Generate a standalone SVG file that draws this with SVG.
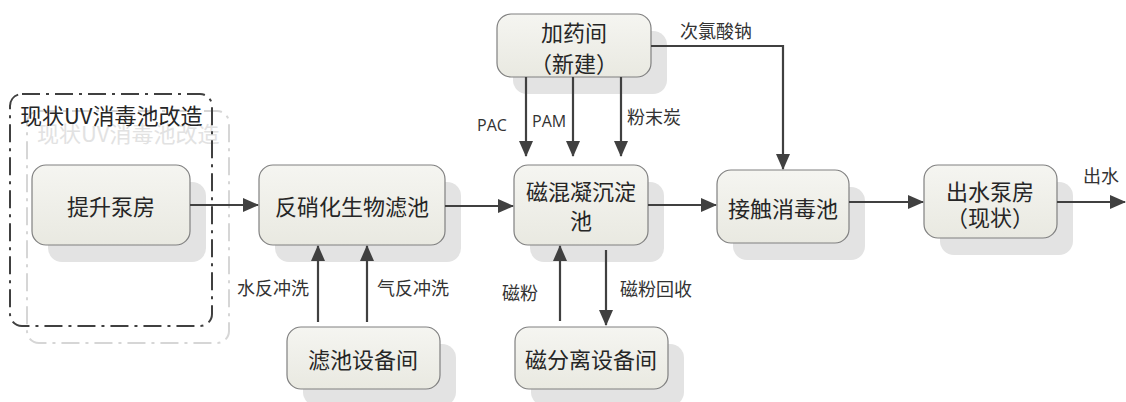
<svg xmlns="http://www.w3.org/2000/svg" width="1126" height="402" viewBox="0 0 1126 402">
<defs>
<linearGradient id="g" x1="0" y1="0" x2="0" y2="1">
<stop offset="0" stop-color="#f5f5f1"/>
<stop offset="1" stop-color="#e9e9e1"/>
</linearGradient>
<marker id="ah" markerUnits="userSpaceOnUse" markerWidth="16" markerHeight="14" viewBox="0 0 16 14" refX="15" refY="7" orient="auto">
<path d="M0,0 L16,7 L0,14 Z" fill="#404040"/>
</marker>
<style>
.box{fill:url(#g);stroke:#808080;stroke-width:1.2}
.sh{fill:#e3e3e3}
.t{font-family:"Noto Sans CJK SC","Liberation Sans",sans-serif;font-size:22px;fill:#262626;text-anchor:middle;dominant-baseline:central}
.l{font-family:"Noto Sans CJK SC","Liberation Sans",sans-serif;font-size:18px;fill:#333;dominant-baseline:central}
.lat{font-family:"Open Sans","Liberation Sans",sans-serif;font-size:16px;fill:#333;dominant-baseline:central}
.c{fill:none;stroke:#404040;stroke-width:2.2;marker-end:url(#ah)}
.ft{font-family:"Noto Sans CJK SC","Liberation Sans",sans-serif;font-size:22px;dominant-baseline:central}
</style>
</defs>
<rect width="1126" height="402" fill="#ffffff"/>

<g id="frame">
<rect x="27" y="111" width="202" height="232" rx="12" fill="none" stroke="#d6d6d6" stroke-width="2" stroke-dasharray="18,6,3,6"/>
<text class="ft" x="37" y="132" fill="#e2e2e2">现状UV消毒池改造</text>
<rect x="10" y="94" width="202" height="232" rx="12" fill="none" stroke="#404040" stroke-width="2" stroke-dasharray="18,6,3,6"/>
<text class="ft" x="20" y="114" fill="#262626">现状UV消毒池改造</text>
</g>

<g id="n-tisheng">
<rect class="sh" x="48" y="182" width="158" height="80" rx="14"/>
<rect class="box" x="32" y="165" width="158" height="80" rx="14"/>
<text class="t" x="111" y="205">提升泵房</text>
</g>

<g id="n-fanxiaohua">
<rect class="sh" x="275" y="182" width="186" height="80" rx="14"/>
<rect class="box" x="259" y="165" width="186" height="80" rx="14"/>
<text class="t" x="352" y="205">反硝化生物滤池</text>
</g>

<g id="n-cihunning">
<rect class="sh" x="530" y="182" width="134" height="80" rx="14"/>
<rect class="box" x="514" y="165" width="134" height="80" rx="14"/>
<text class="t" x="581" y="190">磁混凝沉淀</text>
<text class="t" x="581" y="219">池</text>
</g>

<g id="n-jiechu">
<rect class="sh" x="733" y="187" width="132" height="73" rx="14"/>
<rect class="box" x="717" y="170" width="132" height="73" rx="14"/>
<text class="t" x="783" y="207">接触消毒池</text>
</g>

<g id="n-chushui">
<rect class="sh" x="940" y="182" width="133" height="73" rx="14"/>
<rect class="box" x="924" y="165" width="133" height="73" rx="14"/>
<text class="t" x="990" y="190">出水泵房</text>
<text class="t" x="990" y="216">（现状）</text>
</g>

<g id="n-jiayao">
<rect class="sh" x="513" y="31" width="154" height="63" rx="14"/>
<rect class="box" x="497" y="14" width="154" height="63" rx="14"/>
<text class="t" x="574" y="31">加药间</text>
<text class="t" x="574" y="62">（新建）</text>
</g>

<g id="n-lvchi">
<rect class="sh" x="303" y="344" width="153" height="62" rx="14"/>
<rect class="box" x="287" y="327" width="153" height="62" rx="14"/>
<text class="t" x="363" y="358">滤池设备间</text>
</g>

<g id="n-cifenli">
<rect class="sh" x="531" y="344" width="153" height="62" rx="14"/>
<rect class="box" x="515" y="327" width="153" height="62" rx="14"/>
<text class="t" x="591" y="358">磁分离设备间</text>
</g>

<g id="connectors">
<path class="c" d="M190,205 H258"/>
<path class="c" d="M445,206 H513"/>
<path class="c" d="M648,205 H716"/>
<path class="c" d="M849,202 H923"/>
<path class="c" d="M1057,202 H1125"/>
<path class="c" d="M526,77 V156"/>
<path class="c" d="M573,77 V156"/>
<path class="c" d="M621,77 V156"/>
<path class="c" d="M651,46 H783 V169"/>
<path class="c" d="M318,322 V246"/>
<path class="c" d="M367,322 V246"/>
<path class="c" d="M560,321 V246"/>
<path class="c" d="M606,250 V325"/>
</g>

<g id="labels">
<text class="lat" x="477" y="125">PAC</text>
<text class="lat" x="532" y="121">PAM</text>
<text class="l" x="627" y="116">粉末炭</text>
<text class="l" x="680" y="30">次氯酸钠</text>
<text class="l" x="237" y="287">水反冲洗</text>
<text class="l" x="377" y="287">气反冲洗</text>
<text class="l" x="502" y="292">磁粉</text>
<text class="l" x="620" y="288">磁粉回收</text>
<text class="l" x="1083" y="175">出水</text>
</g>
</svg>
